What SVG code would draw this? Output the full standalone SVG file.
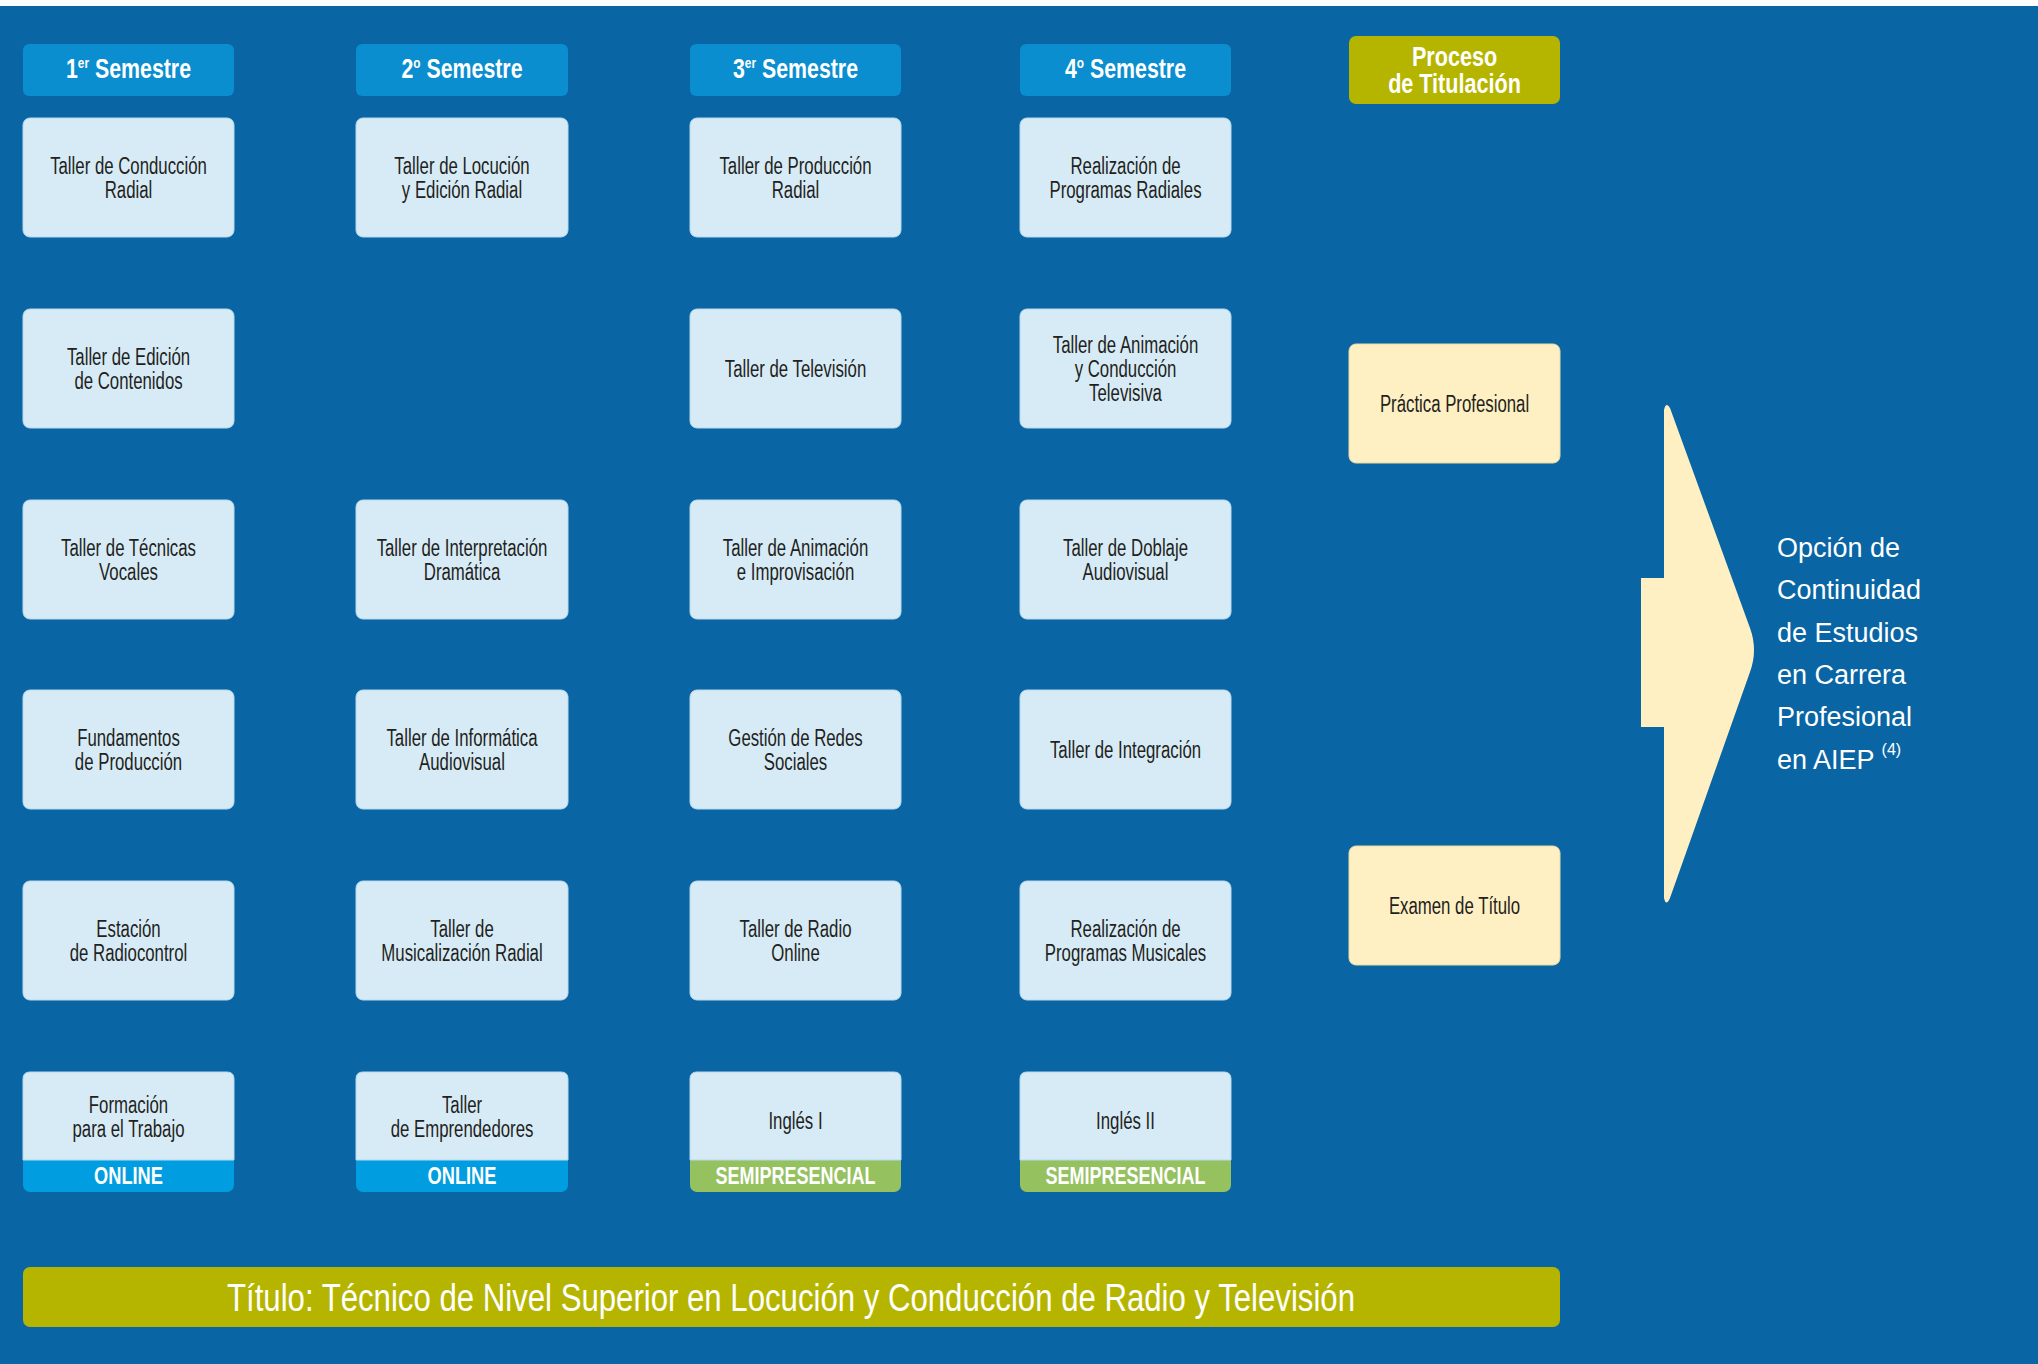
<svg xmlns="http://www.w3.org/2000/svg" width="2038" height="1364" viewBox="0 0 2038 1364">
<style>
.bg{fill:#0965a3}
.hd{fill:#0a8ecf}
.ol{fill:#b5b500}
.nd{fill:#d7ebf7;stroke:#b5d9ef;stroke-width:1}
.cr{fill:#fff0c3;stroke:#e9dba8;stroke-width:1}
.on{fill:#009ee0}
.sp{fill:#95c15f}
.t{font-family:"Liberation Sans",Arial,sans-serif;font-size:23px;fill:#231f20;text-anchor:middle}
.h{font-family:"Liberation Sans",Arial,sans-serif;font-size:27px;font-weight:bold;fill:#ffffff;text-anchor:middle}
.b{font-family:"Liberation Sans",Arial,sans-serif;font-size:24px;font-weight:bold;fill:#ffffff;text-anchor:middle}
.w{font-family:"Liberation Sans",Arial,sans-serif;font-size:27px;fill:#ffffff}
.ti{font-family:"Liberation Sans",Arial,sans-serif;font-size:38px;fill:#ffffff}
</style>
<rect x="0" y="0" width="2038" height="1364" fill="#ffffff"/>
<rect class="bg" x="0" y="6" width="2038" height="1358"/>

<!-- Headers -->
<g id="h1"><rect class="hd" x="23" y="44" width="211" height="52" rx="6"/>
<text class="h" transform="translate(128.5,0) scale(0.79,1)" x="0" y="78">1<tspan font-size="15" dy="-10">er</tspan><tspan dy="10"> Semestre</tspan></text></g>
<g id="h2"><rect class="hd" x="356" y="44" width="212" height="52" rx="6"/>
<text class="h" transform="translate(462,0) scale(0.79,1)" x="0" y="78">2<tspan font-size="15" dy="-10">o</tspan><tspan dy="10"> Semestre</tspan></text></g>
<g id="h3"><rect class="hd" x="690" y="44" width="211" height="52" rx="6"/>
<text class="h" transform="translate(795.5,0) scale(0.79,1)" x="0" y="78">3<tspan font-size="15" dy="-10">er</tspan><tspan dy="10"> Semestre</tspan></text></g>
<g id="h4"><rect class="hd" x="1020" y="44" width="211" height="52" rx="6"/>
<text class="h" transform="translate(1125.5,0) scale(0.79,1)" x="0" y="78">4<tspan font-size="15" dy="-10">o</tspan><tspan dy="10"> Semestre</tspan></text></g>
<g id="h5"><rect class="ol" x="1349" y="36" width="211" height="68" rx="7"/>
<text class="h" font-size="26" transform="translate(1454.5,0) scale(0.8,1)" x="0"><tspan x="0" y="66">Proceso</tspan><tspan x="0" y="93">de Titulación</tspan></text></g>

<!-- Row 1 -->
<g id="n11"><rect class="nd" x="23" y="118" width="211" height="119" rx="7"/>
<text class="t" transform="translate(128.5,0) scale(0.73,1)"><tspan x="0" y="174">Taller de Conducción</tspan><tspan x="0" y="198">Radial</tspan></text></g>
<g id="n12"><rect class="nd" x="356" y="118" width="212" height="119" rx="7"/>
<text class="t" transform="translate(462,0) scale(0.73,1)"><tspan x="0" y="174">Taller de Locución</tspan><tspan x="0" y="198">y Edición Radial</tspan></text></g>
<g id="n13"><rect class="nd" x="690" y="118" width="211" height="119" rx="7"/>
<text class="t" transform="translate(795.5,0) scale(0.73,1)"><tspan x="0" y="174">Taller de Producción</tspan><tspan x="0" y="198">Radial</tspan></text></g>
<g id="n14"><rect class="nd" x="1020" y="118" width="211" height="119" rx="7"/>
<text class="t" transform="translate(1125.5,0) scale(0.73,1)"><tspan x="0" y="174">Realización de</tspan><tspan x="0" y="198">Programas Radiales</tspan></text></g>

<!-- Row 2 -->
<g id="n21"><rect class="nd" x="23" y="309" width="211" height="119" rx="7"/>
<text class="t" transform="translate(128.5,0) scale(0.73,1)"><tspan x="0" y="365">Taller de Edición</tspan><tspan x="0" y="389">de Contenidos</tspan></text></g>
<g id="n23"><rect class="nd" x="690" y="309" width="211" height="119" rx="7"/>
<text class="t" transform="translate(795.5,0) scale(0.73,1)"><tspan x="0" y="377">Taller de Televisión</tspan></text></g>
<g id="n24"><rect class="nd" x="1020" y="309" width="211" height="119" rx="7"/>
<text class="t" transform="translate(1125.5,0) scale(0.73,1)"><tspan x="0" y="353">Taller de Animación</tspan><tspan x="0" y="377">y Conducción</tspan><tspan x="0" y="401">Televisiva</tspan></text></g>
<g id="practica"><rect class="cr" x="1349" y="344" width="211" height="119" rx="7"/>
<text class="t" transform="translate(1454.5,0) scale(0.73,1)"><tspan x="0" y="412">Práctica Profesional</tspan></text></g>

<!-- Row 3 -->
<g id="n31"><rect class="nd" x="23" y="500" width="211" height="119" rx="7"/>
<text class="t" transform="translate(128.5,0) scale(0.73,1)"><tspan x="0" y="556">Taller de Técnicas</tspan><tspan x="0" y="580">Vocales</tspan></text></g>
<g id="n32"><rect class="nd" x="356" y="500" width="212" height="119" rx="7"/>
<text class="t" transform="translate(462,0) scale(0.73,1)"><tspan x="0" y="556">Taller de Interpretación</tspan><tspan x="0" y="580">Dramática</tspan></text></g>
<g id="n33"><rect class="nd" x="690" y="500" width="211" height="119" rx="7"/>
<text class="t" transform="translate(795.5,0) scale(0.73,1)"><tspan x="0" y="556">Taller de Animación</tspan><tspan x="0" y="580">e Improvisación</tspan></text></g>
<g id="n34"><rect class="nd" x="1020" y="500" width="211" height="119" rx="7"/>
<text class="t" transform="translate(1125.5,0) scale(0.73,1)"><tspan x="0" y="556">Taller de Doblaje</tspan><tspan x="0" y="580">Audiovisual</tspan></text></g>

<!-- Row 4 -->
<g id="n41"><rect class="nd" x="23" y="690" width="211" height="119" rx="7"/>
<text class="t" transform="translate(128.5,0) scale(0.73,1)"><tspan x="0" y="746">Fundamentos</tspan><tspan x="0" y="770">de Producción</tspan></text></g>
<g id="n42"><rect class="nd" x="356" y="690" width="212" height="119" rx="7"/>
<text class="t" transform="translate(462,0) scale(0.73,1)"><tspan x="0" y="746">Taller de Informática</tspan><tspan x="0" y="770">Audiovisual</tspan></text></g>
<g id="n43"><rect class="nd" x="690" y="690" width="211" height="119" rx="7"/>
<text class="t" transform="translate(795.5,0) scale(0.73,1)"><tspan x="0" y="746">Gestión de Redes</tspan><tspan x="0" y="770">Sociales</tspan></text></g>
<g id="n44"><rect class="nd" x="1020" y="690" width="211" height="119" rx="7"/>
<text class="t" transform="translate(1125.5,0) scale(0.73,1)"><tspan x="0" y="758">Taller de Integración</tspan></text></g>

<!-- Row 5 -->
<g id="n51"><rect class="nd" x="23" y="881" width="211" height="119" rx="7"/>
<text class="t" transform="translate(128.5,0) scale(0.73,1)"><tspan x="0" y="937">Estación</tspan><tspan x="0" y="961">de Radiocontrol</tspan></text></g>
<g id="n52"><rect class="nd" x="356" y="881" width="212" height="119" rx="7"/>
<text class="t" transform="translate(462,0) scale(0.73,1)"><tspan x="0" y="937">Taller de</tspan><tspan x="0" y="961">Musicalización Radial</tspan></text></g>
<g id="n53"><rect class="nd" x="690" y="881" width="211" height="119" rx="7"/>
<text class="t" transform="translate(795.5,0) scale(0.73,1)"><tspan x="0" y="937">Taller de Radio</tspan><tspan x="0" y="961">Online</tspan></text></g>
<g id="n54"><rect class="nd" x="1020" y="881" width="211" height="119" rx="7"/>
<text class="t" transform="translate(1125.5,0) scale(0.73,1)"><tspan x="0" y="937">Realización de</tspan><tspan x="0" y="961">Programas Musicales</tspan></text></g>
<g id="examen"><rect class="cr" x="1349" y="846" width="211" height="119" rx="7"/>
<text class="t" transform="translate(1454.5,0) scale(0.73,1)"><tspan x="0" y="914">Examen de Título</tspan></text></g>

<!-- Row 6 -->
<g id="n61"><rect class="on" x="23" y="1072" width="211" height="120" rx="7"/>
<path class="nd" d="M23,1160 V1079 Q23,1072 30,1072 H227 Q234,1072 234,1079 V1160 Z"/>
<text class="t" transform="translate(128.5,0) scale(0.73,1)"><tspan x="0" y="1113">Formación</tspan><tspan x="0" y="1137">para el Trabajo</tspan></text>
<text class="b" transform="translate(128.5,0) scale(0.76,1)" x="0" y="1184">ONLINE</text></g>
<g id="n62"><rect class="on" x="356" y="1072" width="212" height="120" rx="7"/>
<path class="nd" d="M356,1160 V1079 Q356,1072 363,1072 H561 Q568,1072 568,1079 V1160 Z"/>
<text class="t" transform="translate(462,0) scale(0.73,1)"><tspan x="0" y="1113">Taller</tspan><tspan x="0" y="1137">de Emprendedores</tspan></text>
<text class="b" transform="translate(462,0) scale(0.76,1)" x="0" y="1184">ONLINE</text></g>
<g id="n63"><rect class="sp" x="690" y="1072" width="211" height="120" rx="7"/>
<path class="nd" d="M690,1160 V1079 Q690,1072 697,1072 H894 Q901,1072 901,1079 V1160 Z"/>
<text class="t" transform="translate(795.5,0) scale(0.73,1)"><tspan x="0" y="1129">Inglés I</tspan></text>
<text class="b" transform="translate(795.5,0) scale(0.75,1)" x="0" y="1184">SEMIPRESENCIAL</text></g>
<g id="n64"><rect class="sp" x="1020" y="1072" width="211" height="120" rx="7"/>
<path class="nd" d="M1020,1160 V1079 Q1020,1072 1027,1072 H1224 Q1231,1072 1231,1079 V1160 Z"/>
<text class="t" transform="translate(1125.5,0) scale(0.73,1)"><tspan x="0" y="1129">Inglés II</tspan></text>
<text class="b" transform="translate(1125.5,0) scale(0.75,1)" x="0" y="1184">SEMIPRESENCIAL</text></g>

<!-- Arrow and continuation -->
<g id="connectors">
<path id="arrow" fill="#fff0c3" d="M1664,410 Q1666,401 1670,408 L1750,628 Q1758,650 1750,672 L1670,898 Q1666,907 1664,898 V727 H1641 V578 H1664 Z"/>
</g>
<g id="continuidad">
<text class="w"><tspan x="1777" y="557">Opción de</tspan><tspan x="1777" y="599">Continuidad</tspan><tspan x="1777" y="642">de Estudios</tspan><tspan x="1777" y="684">en Carrera</tspan><tspan x="1777" y="726">Profesional</tspan><tspan x="1777" y="769">en AIEP <tspan font-size="16" dy="-14">(4)</tspan></tspan></text>
</g>

<!-- Title bar -->
<g id="titulo"><rect class="ol" x="23" y="1267" width="1537" height="60" rx="7"/>
<text class="ti" x="227" y="1311" textLength="1128" lengthAdjust="spacingAndGlyphs">Título: Técnico de Nivel Superior en Locución y Conducción de Radio y Televisión</text></g>
</svg>
